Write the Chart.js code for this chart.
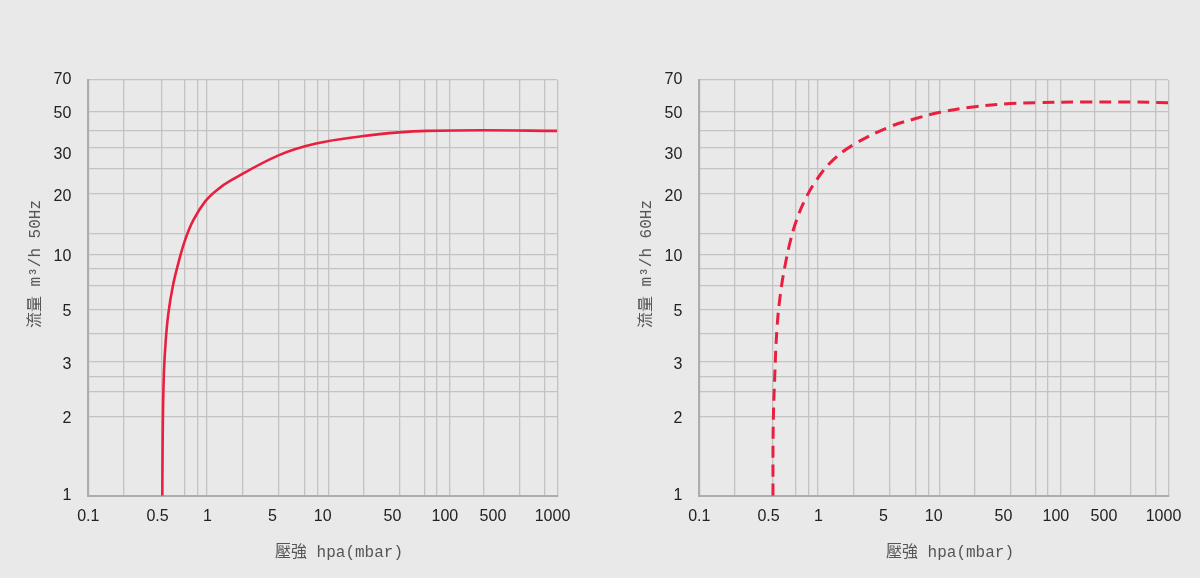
<!DOCTYPE html>
<html>
<head>
<meta charset="utf-8">
<title>流量曲線</title>
<script src="https://cdn.jsdelivr.net/npm/chart.js@4.4.1/dist/chart.umd.min.js"></script>
<style>
    html, body { margin: 0; padding: 0; background: #eae9e9; }
    body { width: 1200px; height: 578px; position: relative; overflow: hidden; }
    .panel { position: absolute; top: 0; width: 600px; height: 578px; }
    .panel canvas { display: block; }
    .ytitle, .xtitle {
        position: absolute;
        white-space: nowrap;
        font: 16px "Liberation Mono", "Noto Sans CJK TC", monospace;
        color: #555;
    }
    .ytitle { left: 33px; top: 264px; transform: translate(-50%, -50%) rotate(-90deg); }
    .xtitle { left: 339px; top: 550px; transform: translate(-50%, -50%); }
</style>
</head>
<body>

<div class="panel" style="left:0">
    <canvas id="chart50" width="600" height="578"></canvas>
    <div class="ytitle">流量 m³/h 50Hz</div>
    <div class="xtitle">壓強 hpa(mbar)</div>
</div>
<div class="panel" style="left:611px">
    <canvas id="chart60" width="600" height="578"></canvas>
    <div class="ytitle">流量 m³/h 60Hz</div>
    <div class="xtitle">壓強 hpa(mbar)</div>
</div>

<script>
// Grid lines and labels as they sit on the printed sheet (values on its log frame)
const xGrid = [0.1, 0.2, 0.42, 0.67, 0.86, 1.03, 2.09, 4.24, 6.94, 9.08, 11.3, 22.2, 45, 74, 93, 120, 236, 477, 782, 1000];
const xLabelAt = [0.1, 0.39, 1.04, 3.73, 10, 39.3, 110, 283, 912];
const xLabels = ['0.1', '0.5', '1', '5', '10', '50', '100', '500', '1000'];

const yGrid = [1, 2.24, 2.89, 3.38, 3.93, 5.26, 6.67, 8.55, 10.2, 11.7, 14.5, 21.8, 28.4, 35.0, 41.7, 50.6, 70];
const yLabelAt = [1, 2.19, 3.8, 6.56, 11.5, 21.3, 32.8, 49.5, 70];
const yLabels = ['1', '2', '3', '5', '10', '20', '30', '50', '70'];

// 50Hz curve (solid)
const pressure50 = [0.428, 0.4305, 0.4347, 0.4425, 0.458, 0.482, 0.525, 0.586, 0.668, 0.787, 0.99, 1.246, 1.673, 4.24, 8.77, 22.2, 45, 77.6, 231, 1000];
const flow50     = [1, 1.65, 2.51, 3.59, 4.91, 6.45, 8.47, 10.75, 13.6, 16.7, 20.2, 22.7, 25.2, 32.5, 36.6, 39.5, 41.0, 41.6, 41.9, 41.6];

// 60Hz curve (dashed)
const pressure60 = [0.425, 0.427, 0.441, 0.461, 0.493, 0.537, 0.600, 0.675, 0.795, 1.0, 1.34, 2.04, 4.22, 7.02, 11.3, 22.5, 44.9, 74.6, 185, 476, 1000];
const flow60     = [1, 2.02, 3.49, 5.62, 7.92, 10.4, 13.6, 16.7, 20.5, 25.2, 30.4, 36.0, 43.4, 47.2, 50.3, 53.3, 55.0, 55.5, 55.9, 55.9, 55.5];

const RED = '#e8203f';
const GRID = '#c3c3c3';
const AXIS = '#adadad';

// grid ticks carry a line but no text, label ticks carry text but no line
function sheetTicks(grid, labelAt) {
    return grid.map(v => ({ value: v, kind: 'grid' }))
        .concat(labelAt.map((v, i) => ({ value: v, kind: 'label', idx: i })))
        .sort((a, b) => a.value - b.value);
}

function axis(min, max, grid, labelAt, labels, pad, fit) {
    return {
        type: 'logarithmic',
        min: min,
        max: max,
        afterBuildTicks: s => { s.ticks = sheetTicks(grid, labelAt); },
        afterFit: fit,
        grid: {
            color: ctx => (ctx.tick && ctx.tick.kind === 'grid') ? GRID : 'rgba(0,0,0,0)',
            lineWidth: 1.3,
            drawTicks: false
        },
        border: { color: AXIS, width: 2 },
        ticks: {
            autoSkip: false,
            maxRotation: 0,
            padding: pad,
            color: '#222',
            font: { family: '"Liberation Sans", Arial, sans-serif', size: 16 },
            callback: (v, i, ticks) => ticks[i].kind === 'label' ? labels[ticks[i].idx] : ''
        }
    };
}

function makeChart(id, xs, ys, dashed) {
    new Chart(document.getElementById(id), {
        type: 'line',
        data: {
            datasets: [{
                data: xs.map((x, i) => ({ x: x, y: ys[i] })),
                borderColor: RED,
                borderWidth: dashed ? 3 : 2.6,
                borderDash: dashed ? [12, 7] : [],
                pointRadius: 0,
                fill: false,
                tension: 0.4
            }]
        },
        options: {
            responsive: false,
            animation: false,
            layout: { padding: { left: 0, top: 80, right: 42.8, bottom: 42.3 } },
            plugins: { legend: { display: false }, tooltip: { enabled: false } },
            scales: {
                x: axis(0.1, 1000, xGrid, xLabelAt, xLabels, 11, s => { s.height = 40; }),
                y: axis(1, 70, yGrid, yLabelAt, yLabels, 17, s => { s.width = 88.3; })
            }
        }
    });
}

makeChart('chart50', pressure50, flow50, false);
makeChart('chart60', pressure60, flow60, true);
</script>
</body>
</html>
